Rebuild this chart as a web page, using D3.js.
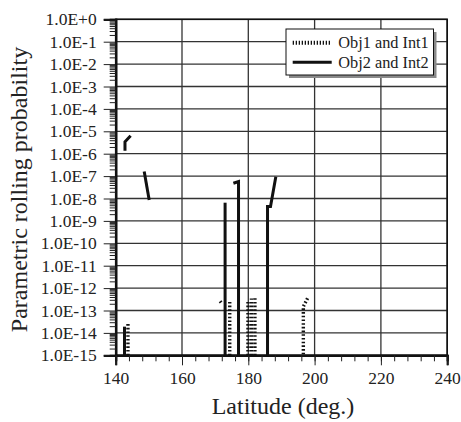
<!DOCTYPE html>
<html>
<head>
<meta charset="utf-8">
<script src="https://cdn.jsdelivr.net/npm/d3@7"></script>
<style>
  html, body { margin: 0; padding: 0; background: #fff; }
  svg text { font-family: "Liberation Serif", "Times New Roman", serif; fill: #222; }
</style>
</head>
<body>
<svg id="chart" width="461" height="422"></svg>
<script>
// Latitude axis
const latitudeTicks = [140, 160, 180, 200, 220, 240];
const latitudeMinorTicks = d3.range(140, 241, 4);

// Probability axis (log scale)
const probTicks = d3.range(0, -16, -1).map(e => Math.pow(10, e));
const probTickLabels = ["1.0E+0", "1.0E-1", "1.0E-2", "1.0E-3", "1.0E-4", "1.0E-5", "1.0E-6",
  "1.0E-7", "1.0E-8", "1.0E-9", "1.0E-10", "1.0E-11", "1.0E-12", "1.0E-13", "1.0E-14", "1.0E-15"];

// Obj1 and Int1: segments of [latitude, probability]
const obj1Int1 = [
  [[143.7, 1e-15], [143.7, 2.7e-14]],
  [[171.5, 2.6e-13], [172.1, 2.0e-13]],
  [[174.4, 1e-15], [174.4, 2.75e-13]],
  [[179.9, 1e-15], [179.9, 2.9e-13]],
  [[180.95, 1e-15], [180.95, 3.4e-13]],
  [[182.0, 1e-15], [182.0, 4.2e-13]],
  [[196.6, 1.1e-15], [196.6, 1.48e-13], [198.1, 4.1e-13]]
];

// Obj2 and Int2: segments of [latitude, probability]
const obj2Int2 = [
  [[142.65, 1e-15], [142.65, 1.9e-14]],
  [[142.8, 1.36e-6], [142.8, 3.4e-6], [144.5, 6.4e-6]],
  [[148.6, 1.6e-7], [150.1, 8.5e-9]],
  [[173.0, 1e-15], [173.0, 6.5e-9]],
  [[175.5, 4.8e-8], [177.05, 5.7e-8], [177.05, 1e-15]],
  [[185.8, 1e-15], [185.8, 4.4e-9], [186.7, 4.4e-9], [188.3, 9.4e-8]]
];

const legendItems = [
  { label: "Obj1 and Int1", dotted: true },
  { label: "Obj2 and Int2", dotted: false }
];

const serif = '"Liberation Serif", "Times New Roman", serif';
const svg = d3.select("#chart");
const plot = { left: 115.7, right: 447.2, top: 19.3, bottom: 355.3 };

const x = d3.scaleLinear().domain([140, 240]).range([plot.left, plot.right]);
const y = d3.scaleLog().domain([1e-15, 1]).range([plot.bottom, plot.top]);

// Grid
const grid = svg.append("g").attr("stroke", "#333").attr("stroke-width", 1.3);
grid.selectAll("line.h").data(probTicks).join("line")
  .attr("x1", plot.left).attr("x2", plot.right)
  .attr("y1", d => y(d)).attr("y2", d => y(d));
grid.selectAll("line.v").data(latitudeTicks).join("line")
  .attr("y1", plot.top).attr("y2", plot.bottom)
  .attr("x1", d => x(d)).attr("x2", d => x(d));

// Frame
svg.append("rect")
  .attr("x", plot.left).attr("y", plot.top)
  .attr("width", plot.right - plot.left).attr("height", plot.bottom - plot.top)
  .attr("fill", "none").attr("stroke", "#111").attr("stroke-width", 1.6);

// Y axis
const minorProb = [];
for (let e = -15; e < 0; e++) for (let k = 2; k <= 9; k++) minorProb.push(k * Math.pow(10, e));

const yMajor = svg.append("g").attr("transform", `translate(${plot.left},0)`)
  .call(d3.axisLeft(y).tickValues(probTicks).tickSize(12).tickPadding(7)
    .tickFormat((d, i) => probTickLabels[i]));
const yMinor = svg.append("g").attr("transform", `translate(${plot.left},0)`)
  .call(d3.axisLeft(y).tickValues(minorProb).tickSize(6).tickFormat(""));

// X axis
const xMajor = svg.append("g").attr("transform", `translate(0,${plot.bottom})`)
  .call(d3.axisBottom(x).tickValues(latitudeTicks).tickSize(10).tickPadding(6)
    .tickFormat(d3.format("d")));
const xMinor = svg.append("g").attr("transform", `translate(0,${plot.bottom})`)
  .call(d3.axisBottom(x).tickValues(latitudeMinorTicks).tickSize(6).tickFormat(""));

[yMajor, yMinor, xMajor, xMinor].forEach(g => {
  g.attr("font-family", null).style("font-family", serif);
  g.select(".domain").attr("stroke", "#111").attr("stroke-width", 2.2);
  g.selectAll(".tick line").attr("stroke", "#222").attr("stroke-width", 1);
  g.selectAll(".tick text").style("font-family", serif).style("font-size", "17.5px")
    .attr("fill", "#222");
});

// Data lines
const line = d3.line().x(d => x(d[0])).y(d => y(d[1]));
const dataG = svg.append("g");
dataG.selectAll("path.obj1").data(obj1Int1).join("path")
  .attr("d", line).attr("fill", "none").attr("stroke", "#111")
  .attr("stroke-width", 3.4).attr("stroke-dasharray", "1.6,2.1");
dataG.selectAll("path.obj2").data(obj2Int2).join("path")
  .attr("d", line).attr("fill", "none").attr("stroke", "#111")
  .attr("stroke-width", 3).attr("stroke-linejoin", "miter");

// Axis titles
svg.append("text").attr("x", 283).attr("y", 414).attr("text-anchor", "middle")
  .style("font-size", "24px").text("Latitude (deg.)");
svg.append("text").attr("transform", "translate(27,189.5) rotate(-90)")
  .attr("text-anchor", "middle").style("font-size", "24px").text("Parametric rolling probability");

// Legend
const lg = { x: 286, y: 29, w: 147.5, h: 46 };
svg.append("rect").attr("x", lg.x + 3).attr("y", lg.y + 3).attr("width", lg.w).attr("height", lg.h)
  .attr("fill", "#8a8a8a");
svg.append("rect").attr("x", lg.x).attr("y", lg.y).attr("width", lg.w).attr("height", lg.h)
  .attr("fill", "#fff").attr("stroke", "#111").attr("stroke-width", 1);
const rows = svg.append("g").selectAll("g").data(legendItems).join("g")
  .attr("transform", (d, i) => `translate(${lg.x},${lg.y + 13.7 + i * 19.6})`);
rows.append("line").attr("x1", 6.7).attr("x2", 45.7).attr("y1", 0).attr("y2", 0)
  .attr("stroke", "#111")
  .attr("stroke-width", d => d.dotted ? 4 : 3)
  .attr("stroke-dasharray", d => d.dotted ? "1.3,1.7" : null);
rows.append("text").attr("x", 52.3).attr("y", 5.5).style("font-size", "16.3px").text(d => d.label);
</script>
</body>
</html>
